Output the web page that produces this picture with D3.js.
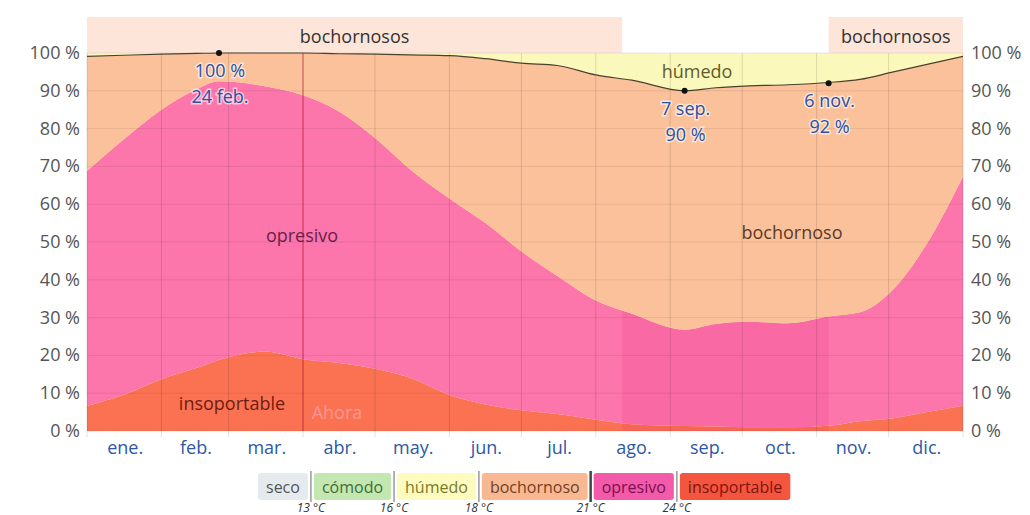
<!DOCTYPE html>
<html>
<head>
<meta charset="utf-8">
<script src="https://cdn.jsdelivr.net/npm/d3@7"></script>
<style>
  body { margin: 0; background: #fff; }
  svg { font-family: "Open Sans", "Noto Sans", sans-serif; }
</style>
</head>
<body>
<svg id="chart" width="1030" height="515"></svg>
<script>
// sample days (day of year) and share of hours in each humidity level (%)
var days = [0, 15, 31, 46, 55, 74, 90, 105, 120, 135, 151, 166, 181, 196, 212, 227, 249, 262, 276, 292, 309, 322, 336, 350, 365];
var insoportable = [6.6, 9.5, 13.7, 16.8, 18.8, 21, 19, 18, 16.5, 14, 9.5, 7, 5.5, 4.5, 3, 1.8, 1.3, 1.2, 1, 1, 1.4, 2.6, 3.4, 5, 6.7];
var opresivo = [62.2, 67.5, 71.3, 73.7, 73.7, 70.2, 69.8, 66.5, 61, 55, 52, 48, 42, 36.5, 31.5, 29.2, 25.5, 27.1, 27.9, 27.5, 28.9, 28.8, 34.1, 44.6, 60.6];
var bochornoso = [30.3, 22.4, 14.7, 9.4, 7.5, 8.8, 11.2, 15.3, 22.2, 30.5, 37.8, 43.5, 49.8, 55.7, 59.7, 61.8, 63.2, 62.5, 62.4, 63.1, 61.9, 61.6, 57.5, 47.4, 31.8];
var humedo = [0.9, 0.6, 0.3, 0.1, 0, 0, 0, 0.2, 0.3, 0.5, 0.7, 1.5, 2.7, 3.3, 5.8, 7.2, 10, 9.2, 8.7, 8.4, 7.8, 7, 5, 3, 0.9];

var monthNames = ["ene.", "feb.", "mar.", "abr.", "may.", "jun.", "jul.", "ago.", "sep.", "oct.", "nov.", "dic."];
var monthStarts = [0, 31, 59, 90, 120, 151, 181, 212, 243, 273, 304, 334, 365];
var yTicks = [0, 10, 20, 30, 40, 50, 60, 70, 80, 90, 100];

// top season bands and the highlighted period (days)
var seasonBands = [[0, 223, "bochornosos"], [309, 365, "bochornosos"]];
var shadedPeriod = [223, 309];
var nowDay = 90;

// annotated extremes of the muggy boundary
var notes = [
  {day: 55, value: 100, lines: ["100 %", "24 feb."]},
  {day: 249, value: 90, lines: ["7 sep.", "90 %"]},
  {day: 309, value: 92, lines: ["6 nov.", "92 %"]}
];

var legendNames = ["seco", "cómodo", "húmedo", "bochornoso", "opresivo", "insoportable"];
var legendTemps = ["13 °C", "16 °C", "18 °C", "21 °C", "24 °C"];

var legendFill = ["#e4eaee", "#c4e6b0", "#fdfbbd", "#f8b892", "#f35aaa", "#f4553e"],
  legendText = ["#555", "#3f6e35", "#7b7a2a", "#744026", "#7a1050", "#7e1410"],
  keys = ["insoportable", "opresivo", "bochornoso", "humedo"],
  colors = {insoportable: "#fa7252", opresivo: "#fc76ab", bochornoso: "#fbc19a", humedo: "#fbf8bb"},
  rows = days.map(function (d, i) {
    return {day: d, insoportable: insoportable[i], opresivo: opresivo[i], bochornoso: bochornoso[i], humedo: humedo[i]};
  }),
  stacked = d3.stack().keys(keys)(rows),
  MARGINS = {top: 53, right: 67, bottom: 84, left: 87},
  WIDTH = 1030,
  HEIGHT = 515,
  xScale = d3.scaleLinear().domain([0, 365]).range([MARGINS.left, WIDTH - MARGINS.right]),
  yScale = d3.scaleLinear().domain([0, 100]).range([HEIGHT - MARGINS.bottom, MARGINS.top]),
  svg = d3.select("#chart");

// season bands above the plot
seasonBands.forEach(function (b) {
  svg.append("rect")
    .attr("x", xScale(b[0]))
    .attr("width", xScale(b[1]) - xScale(b[0]))
    .attr("y", 17)
    .attr("height", yScale(100) - 17)
    .attr("fill", "#fde5d9");
  svg.append("text")
    .attr("x", (xScale(b[0]) + xScale(b[1])) / 2)
    .attr("y", 43)
    .attr("text-anchor", "middle")
    .attr("font-size", 18)
    .attr("fill", "#333")
    .text(b[2]);
});

var area = d3.area()
  .x(function (d) { return xScale(d.data.day); })
  .y0(function (d) { return yScale(d[0]); })
  .y1(function (d) { return yScale(d[1]); })
  .curve(d3.curveMonotoneX);

// background above the stack (remaining hours are húmedo anyway)
svg.append("rect")
  .attr("x", xScale(0)).attr("y", yScale(100))
  .attr("width", xScale(365) - xScale(0)).attr("height", yScale(0) - yScale(100))
  .attr("fill", colors.humedo);

svg.selectAll("path.layer")
  .data(stacked)
.enter().append("path")
  .attr("class", "layer")
  .attr("fill", function (d) { return colors[d.key]; })
  .attr("d", area);

// darker shading of the muggiest period, only over the opresivo/insoportable part
var clipArea = d3.area()
  .x(function (d) { return xScale(d.data.day); })
  .y0(yScale(0))
  .y1(function (d) { return yScale(d[1]); })
  .curve(d3.curveMonotoneX);
svg.append("clipPath").attr("id", "lowClip")
  .append("path").attr("d", clipArea(stacked[1]));
svg.append("rect")
  .attr("clip-path", "url(#lowClip)")
  .attr("x", xScale(shadedPeriod[0]))
  .attr("width", xScale(shadedPeriod[1]) - xScale(shadedPeriod[0]))
  .attr("y", yScale(100)).attr("height", yScale(0) - yScale(100))
  .attr("fill", "#e0006e").attr("opacity", 0.1);

// grid
svg.selectAll("line.hgrid")
  .data(yTicks)
.enter().append("line")
  .attr("x1", xScale(0)).attr("x2", xScale(365))
  .attr("y1", function (d) { return yScale(d); })
  .attr("y2", function (d) { return yScale(d); })
  .attr("stroke", "#000").attr("stroke-opacity", 0.08);

svg.selectAll("line.vgrid")
  .data(monthStarts)
.enter().append("line")
  .attr("x1", function (d) { return xScale(d); })
  .attr("x2", function (d) { return xScale(d); })
  .attr("y1", yScale(100)).attr("y2", yScale(0) + 6)
  .attr("stroke", "#000").attr("stroke-opacity", 0.12);

// now line
svg.append("line")
  .attr("x1", xScale(nowDay)).attr("x2", xScale(nowDay))
  .attr("y1", yScale(100)).attr("y2", yScale(0))
  .attr("stroke", "#c8102e").attr("stroke-opacity", 0.6);

// boundary line between bochornoso and húmedo
var topLine = d3.line()
  .x(function (d) { return xScale(d.data.day); })
  .y(function (d) { return yScale(d[1]); })
  .curve(d3.curveMonotoneX);
svg.append("path")
  .attr("d", topLine(stacked[2]))
  .attr("fill", "none")
  .attr("stroke", "#4a4030")
  .attr("stroke-width", 1.2);

// y axis labels on both sides
svg.selectAll("text.yl")
  .data(yTicks)
.enter().append("text")
  .attr("x", xScale(0) - 7)
  .attr("y", function (d) { return yScale(d) + 6; })
  .attr("text-anchor", "end")
  .attr("font-size", 18)
  .attr("fill", "#555")
  .text(function (d) { return d + " %"; });

svg.selectAll("text.yr")
  .data(yTicks)
.enter().append("text")
  .attr("x", xScale(365) + 8)
  .attr("y", function (d) { return yScale(d) + 6; })
  .attr("font-size", 18)
  .attr("fill", "#555")
  .text(function (d) { return d + " %"; });

// month labels
svg.selectAll("text.month")
  .data(monthNames)
.enter().append("text")
  .attr("x", function (d, i) { return (xScale(monthStarts[i]) + xScale(monthStarts[i + 1])) / 2 + 1; })
  .attr("y", yScale(0) + 23)
  .attr("text-anchor", "middle")
  .attr("font-size", 18)
  .attr("fill", "#2d58a6")
  .text(function (d) { return d; });

// labels inside the areas
function areaLabel(x, y, txt, color, op) {
  svg.append("text")
    .attr("x", x).attr("y", y)
    .attr("text-anchor", "middle")
    .attr("font-size", 18)
    .attr("fill", color)
    .attr("opacity", op || 1)
    .text(txt);
}
areaLabel(697, 78, "húmedo", "#5e5c2a");
areaLabel(302, 242, "opresivo", "#6a1e4c");
areaLabel(792, 239, "bochornoso", "#5a3a28");
areaLabel(232, 410, "insoportable", "#6e1c12");
areaLabel(337, 419, "Ahora", "#ff9a9a", 0.9);

// extreme markers
notes.forEach(function (n) {
  var cx = xScale(n.day), cy = yScale(n.value);
  svg.append("circle").attr("cx", cx).attr("cy", cy).attr("r", 3).attr("fill", "#111");
  n.lines.forEach(function (t, j) {
    svg.append("text")
      .attr("x", cx + 1)
      .attr("y", cy + 24 + j * 26)
      .attr("text-anchor", "middle")
      .attr("font-size", 18)
      .attr("fill", "#2f4fa0")
      .attr("stroke", "#fff")
      .attr("stroke-opacity", 0.6)
      .attr("stroke-width", 3)
      .attr("paint-order", "stroke")
      .text(t);
  });
});

// legend
var lx = 258, ly = 473, gap = 6;
var seps = [];
legendNames.forEach(function (name, i) {
  var g = svg.append("g");
  var t = g.append("text")
    .attr("x", lx + 8).attr("y", ly + 20)
    .attr("font-size", 16)
    .attr("fill", legendText[i])
    .text(name);
  var w = t.node().getComputedTextLength() + 16;
  g.insert("rect", "text")
    .attr("x", lx).attr("y", ly)
    .attr("width", w).attr("height", 27)
    .attr("rx", 3)
    .attr("fill", legendFill[i]);
  lx += w;
  if (i < legendNames.length - 1) {
    seps.push(lx + gap / 2);
    lx += gap;
  }
});
seps.forEach(function (sx, i) {
  svg.append("line")
    .attr("x1", sx).attr("x2", sx)
    .attr("y1", ly - 2).attr("y2", ly + 29)
    .attr("stroke", i === 3 ? "#444" : "#999")
    .attr("stroke-width", i === 3 ? 2.5 : 1.5);
  svg.append("text")
    .attr("x", sx).attr("y", ly + 39)
    .attr("text-anchor", "middle")
    .attr("font-size", 12)
    .attr("font-style", "italic")
    .attr("fill", "#333")
    .text(legendTemps[i]);
});
</script>
</body>
</html>
